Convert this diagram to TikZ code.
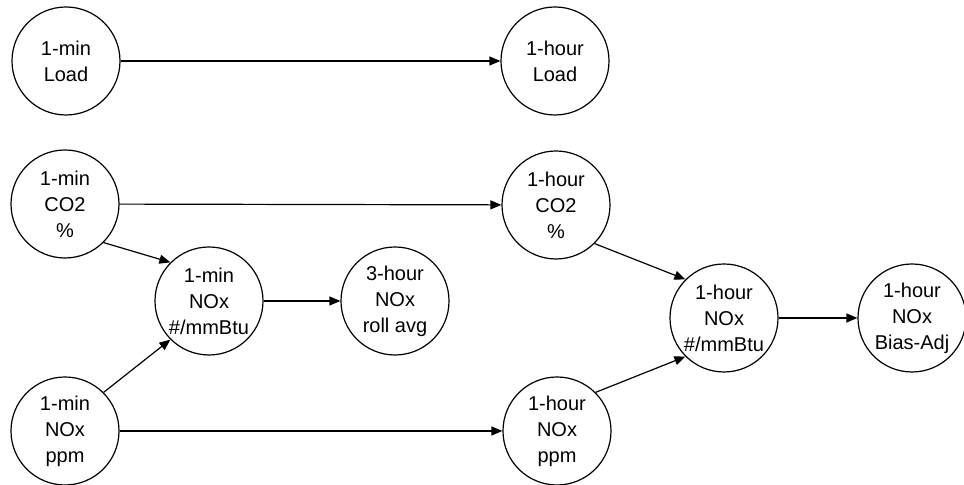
\documentclass[tikz,border=0pt]{standalone}
\usepackage{fontspec}
\setmainfont{Liberation Sans}
\usepackage{tikz}
\usetikzlibrary{arrows.meta}
\tikzset{
  var/.style={circle, draw, line width=0.6pt, minimum size=54pt, inner sep=0pt,
    align=center, font=\fontsize{10}{13}\selectfont},
  flow/.style={-{Triangle[length=5.5pt,width=4.5pt]}, line width=0.6pt}
}
\begin{document}
\begin{tikzpicture}[x=0.5pt,y=0.5pt]
  \useasboundingbox (0,0) rectangle (964,485);
  % load row
  \node[var] (loadmin) at (66,424) {1-min\\Load};
  \node[var] (loadhr)  at (555,424) {1-hour\\Load};
  % one-minute values
  \node[var] (co2min)   at (65,281)  {1-min\\CO2\\\%};
  \node[var] (noxmin)   at (209,184) {1-min\\NOx\\\#/mmBtu};
  \node[var] (avgthree) at (395,184) {3-hour\\NOx\\roll avg};
  \node[var] (ppmmin)   at (65,54)   {1-min\\NOx\\ppm};
  % hourly values
  \node[var] (co2hr)   at (556,280) {1-hour\\CO2\\\%};
  \node[var] (noxhr)   at (724,167) {1-hour\\NOx\\\#/mmBtu};
  \node[var] (biasadj) at (912,167) {1-hour\\NOx\\Bias-Adj};
  \node[var] (ppmhr)   at (557,54)  {1-hour\\NOx\\ppm};
  % connectors
  \draw[flow] (loadmin) -- (loadhr);
  \draw[flow] (co2min) -- (co2hr);
  \draw[flow] (ppmmin) -- (ppmhr);
  \draw[flow] (co2min.south east) -- (noxmin.north west);
  \draw[flow] (ppmmin.north east) -- (noxmin.south west);
  \draw[flow] (noxmin) -- (avgthree);
  \draw[flow] (co2hr.south east) -- (noxhr.north west);
  \draw[flow] (ppmhr.north east) -- (noxhr.south west);
  \draw[flow] (noxhr) -- (biasadj);
\end{tikzpicture}
\end{document}
